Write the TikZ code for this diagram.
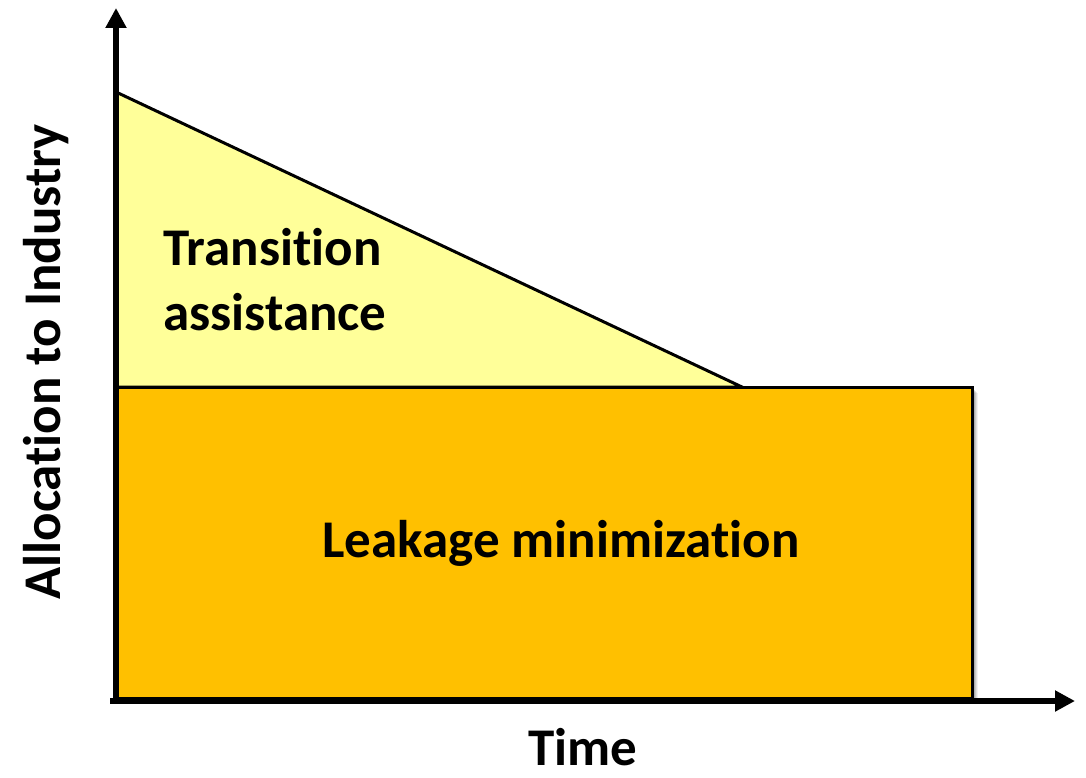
\documentclass[tikz,border=0pt]{standalone}
\usepackage{fontspec}
\setmainfont[Ligatures=NoCommon]{Carlito}
\usetikzlibrary{arrows.meta}
\definecolor{gold}{HTML}{FFC000}
\definecolor{paleyellow}{HTML}{FFFF99}
\tikzset{
  lbl/.style={font=\bfseries\fontsize{53}{65}\selectfont, inner sep=0pt},
  axis/.style={line width=6pt, -{Triangle[length=20pt,width=20pt]}},
  shape edge/.style={line width=3pt, line join=miter},
}
\begin{document}
\begin{tikzpicture}[x=1pt,y=-1pt]
\useasboundingbox (0,0) rectangle (1086,778);
% shadow
\foreach \o/\a in {6/0.06,5/0.08,4/0.1,3/0.12}{
  \fill[black,opacity=\a] (116+\o,387+\o) rectangle (972+\o,698+\o);
}
\coordinate (rtl) at (116,387);
\coordinate (rbr) at (972,698);
\filldraw[fill=gold, draw=black, shape edge] (rtl) rectangle (rbr);
\coordinate (ta) at (116,92);
\coordinate (tb) at (742,387);
\coordinate (tc) at (116,387);
\filldraw[fill=paleyellow, draw=black, shape edge] (ta) -- (tb) -- (tc) -- cycle;
% axes
\coordinate (origin) at (116,701);
\coordinate (ytop) at (116,8);
\coordinate (xstart) at (110,701);
\coordinate (xend) at (1075,701);
\draw[axis] (origin) -- (ytop);
\draw[axis] (xstart) -- (xend);
% labels
\node[lbl, anchor=base west] (t1) at (163,265) {Transition};
\node[lbl, anchor=base west] (t2) at (163,330) {assistance};
\node[lbl, anchor=base] (leak) at (561,557) {Leakage minimization};
\node[lbl, anchor=base] (time) at (583,765) {Time};
\node[lbl, anchor=base, rotate=90] (yl) at (60,362) {Allocation to Industry};
\end{tikzpicture}
\end{document}
